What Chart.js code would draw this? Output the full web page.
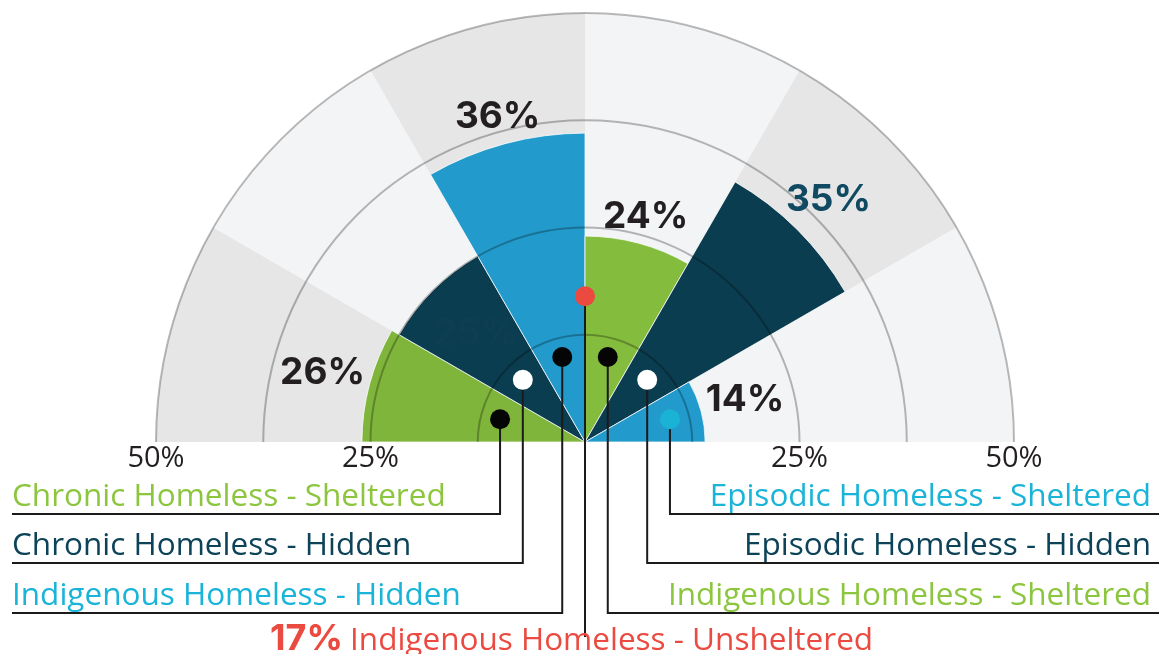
<!DOCTYPE html>
<html>
<head>
<meta charset="utf-8">
<script src="https://cdn.jsdelivr.net/npm/chart.js@4"></script>
<style>
  html, body { margin: 0; padding: 0; background: #fff; }
  #wrap { position: relative; width: 1171px; height: 654px; overflow: hidden; }
  #chart { display: block; }
</style>
</head>
<body>
<div id="wrap"><canvas id="chart" width="1171" height="871"></canvas></div>
<script>
// Homelessness by group, half polar area (left to right)
const categories = [
  'Chronic Homeless - Sheltered',
  'Chronic Homeless - Hidden',
  'Indigenous Homeless - Hidden',
  'Indigenous Homeless - Sheltered',
  'Episodic Homeless - Hidden',
  'Episodic Homeless - Sheltered'
];
const shares = [26, 25, 36, 24, 35, 14];
const unshelteredLabel = 'Indigenous Homeless - Unsheltered';
const unshelteredShare = 17;
const bandValues = [50, 50, 50, 50, 50, 50];
const tickValues = [25, 50];

// styling
const wedgeColors = ['#7fb53a', '#0b3d50', '#229bcc', '#84bc3d', '#0b3d50', '#229bcc'];
const nameColors = ['#8cc63f', '#0d4358', '#19b4d8', '#8cc63f', '#0d4358', '#19b4d8'];
const valueColors = ['#231f20', '#0e3e52', '#231f20', '#231f20', '#0f4a62', '#231f20'];
const dotColors = ['#050505', '#ffffff', '#050505', '#050505', '#ffffff', '#1ab3d5'];
const bandColors = ['#e6e6e6', '#f3f4f6', '#e6e6e6', '#f3f4f6', '#e6e6e6', '#f3f4f6'];
const valueInside = [false, true, false, false, false, false];
const RED = '#ea4a40';
const INK = '#1c1a1b';
const rowY = [514, 563, 613];
const DOT_VALUE = 10.25;

const nameFont = '31.5px "Open Sans"';
const valueFont = 'bold 37px Inter';

const overlay = {
  id: 'overlay',
  beforeDraw(chart) {
    // only the upper half of the disc is shown
    const { ctx } = chart;
    ctx.save();
    ctx.beginPath();
    ctx.rect(0, 0, chart.width, chart.scales.r.yCenter);
    ctx.clip();
  },
  afterDraw(chart) {
    const { ctx } = chart;
    ctx.restore();
    const r = chart.scales.r;
    const cx = r.xCenter, cy = r.yCenter;
    const arcs = chart.getDatasetMeta(0).data;

    // axis labels along the base line
    ctx.save();
    ctx.font = '29px "Open Sans"';
    ctx.fillStyle = '#231f20';
    ctx.textAlign = 'center';
    ctx.textBaseline = 'alphabetic';
    tickValues.forEach(v => {
      const d = r.getDistanceFromCenterForValue(v);
      ctx.fillText(v + '%', cx - d, cy + 25);
      ctx.fillText(v + '%', cx + d, cy + 25);
    });
    ctx.restore();

    // value labels
    ctx.save();
    ctx.font = valueFont;
    ctx.textAlign = 'center';
    ctx.textBaseline = 'middle';
    arcs.forEach((arc, i) => {
      const a = (arc.startAngle + arc.endAngle) / 2;
      const text = shares[i] + '%';
      const halfW = ctx.measureText(text).width / 2;
      let d;
      if (valueInside[i]) {
        d = arc.outerRadius * 0.72;
      } else {
        d = arc.outerRadius + 4 + halfW * Math.abs(Math.cos(a)) + 14 * Math.abs(Math.sin(a));
      }
      ctx.fillStyle = valueColors[i];
      ctx.fillText(text, cx + d * Math.cos(a), cy + d * Math.sin(a) + 1);
    });
    ctx.restore();

    // leader lines, names and dots
    const dotR = r.getDistanceFromCenterForValue(DOT_VALUE);
    ctx.save();
    ctx.lineWidth = 2;
    ctx.strokeStyle = INK;
    ctx.font = nameFont;
    ctx.textBaseline = 'alphabetic';
    arcs.forEach((arc, i) => {
      const a = (arc.startAngle + arc.endAngle) / 2;
      const x = cx + dotR * Math.cos(a);
      const y = cy + dotR * Math.sin(a);
      const left = i < 3;
      const ly = rowY[left ? i : 5 - i];
      ctx.beginPath();
      ctx.moveTo(x, y);
      ctx.lineTo(x, ly);
      ctx.lineTo(left ? 12 : 1159, ly);
      ctx.stroke();
      ctx.fillStyle = nameColors[i];
      ctx.textAlign = left ? 'left' : 'right';
      ctx.fillText(categories[i], left ? 12 : 1151, ly - 8);
      ctx.beginPath();
      ctx.arc(x, y, 10, 0, Math.PI * 2);
      ctx.fillStyle = dotColors[i];
      ctx.fill();
    });

    // unsheltered share: a point straight up
    const ry = cy - r.getDistanceFromCenterForValue(unshelteredShare);
    ctx.beginPath();
    ctx.moveTo(cx, ry);
    ctx.lineTo(cx, 637);
    ctx.stroke();
    ctx.beginPath();
    ctx.arc(cx, ry, 10, 0, Math.PI * 2);
    ctx.fillStyle = RED;
    ctx.fill();

    ctx.fillStyle = RED;
    ctx.textAlign = 'left';
    ctx.font = 'bold 36px Inter';
    const pct = unshelteredShare + '%';
    ctx.fillText(pct, 270, 650);
    const w = ctx.measureText(pct).width;
    ctx.font = nameFont;
    ctx.fillText(unshelteredLabel, 270 + w + 7, 650);
    ctx.restore();
  }
};

new Chart(document.getElementById('chart'), {
  type: 'polarArea',
  data: {
    labels: categories,
    datasets: [
      {
        data: shares,
        backgroundColor: wedgeColors,
        borderColor: 'rgba(255,255,255,0.75)',
        borderWidth: 1,
        angle: 30
      },
      {
        data: bandValues,
        backgroundColor: bandColors,
        borderWidth: 0,
        angle: 30
      }
    ]
  },
  options: {
    responsive: false,
    animation: false,
    events: [],
    layout: { padding: { top: 13 } },
    plugins: {
      legend: { display: false },
      tooltip: { enabled: false }
    },
    scales: {
      r: {
        min: 0,
        max: 50,
        startAngle: -90,
        ticks: { display: false, stepSize: 12.5 },
        grid: { color: 'rgba(0,0,0,0.27)', lineWidth: 2, z: 1 },
        angleLines: { display: false },
        pointLabels: { display: false }
      }
    }
  },
  plugins: [overlay]
});
</script>
</body>
</html>
